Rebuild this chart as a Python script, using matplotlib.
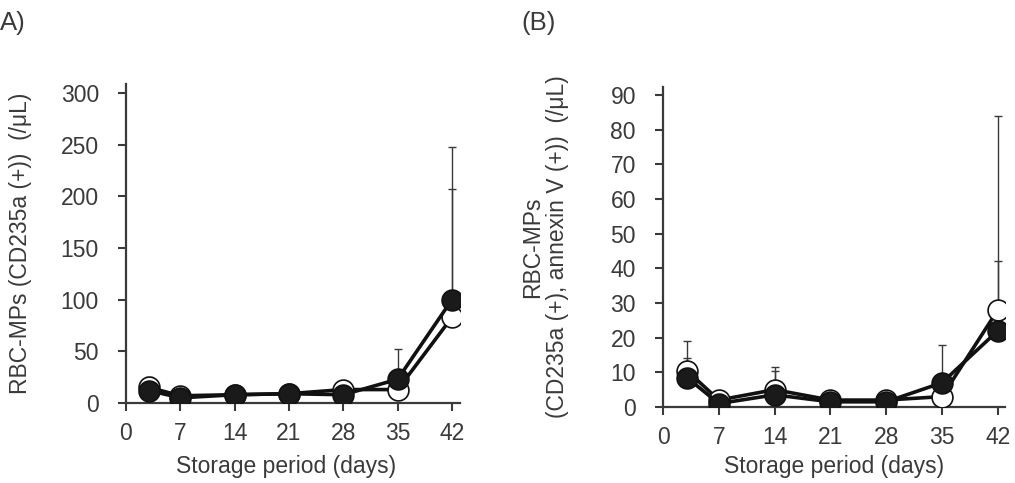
import matplotlib.pyplot as plt
import numpy as np

plt.rcParams['font.family'] = ['Liberation Sans', 'DejaVu Sans']

days = [3, 7, 14, 21, 28, 35, 42]
xticks = [0, 7, 14, 21, 28, 35, 42]

# panel A: CD235a(+)
a_open = [15, 7, 8, 9, 13, 13, 83]
a_open_err = [10, 0, 0, 0, 0, 0, 124]
a_fill = [12, 5, 8, 9, 8, 23, 100]
a_fill_err = [0, 0, 0, 0, 0, 29, 148]

# panel B: CD235a(+), annexin V(+)
b_open = [10.5, 2, 5, 2, 2, 3, 28]
b_open_err = [3.5, 0, 5.5, 0, 0, 0, 56]
b_fill = [8.5, 1, 3.5, 1.5, 1.5, 7, 22]
b_fill_err = [10.5, 0, 8, 0, 0, 11, 20]

dark = '#3a3a3a'
FS = 16.5
fig = plt.figure(figsize=(10.15, 4.83), dpi=100)


def panel(ax, op, operr, fi, fierr, lims, yticks, ylabel):
    x = np.array(days)
    ax.errorbar(x, op, yerr=[np.zeros(len(op)), operr], fmt='none', ecolor=dark,
                elinewidth=1, capsize=3, capthick=1, zorder=1)
    ax.errorbar(x, fi, yerr=[np.zeros(len(fi)), fierr], fmt='none', ecolor=dark,
                elinewidth=1, capsize=3, capthick=1, zorder=1)
    ax.plot(x, op, '-o', color='#111111', lw=2.6, ms=15, mfc='white',
            mec='#111111', mew=1.2, zorder=3)
    ax.plot(x, fi, '-o', color='#111111', lw=2.6, ms=15, mfc='#1a1a1a',
            mec='#111111', mew=1.2, zorder=4)
    ax.set_xlim(*lims[0])
    ax.set_ylim(*lims[1])
    ax.set_xticks(xticks)
    ax.set_yticks(yticks)
    for s in ['top', 'right']:
        ax.spines[s].set_visible(False)
    for s in ['left', 'bottom']:
        ax.spines[s].set_color(dark)
        ax.spines[s].set_linewidth(1.6)
    ax.tick_params(direction='out', length=5.5, width=1.5, color=dark,
                   labelsize=FS, labelcolor=dark)
    ax.tick_params(axis='y', pad=14)
    ax.tick_params(axis='x', pad=8)
    ax.set_xlabel('Storage period (days)', fontsize=FS, color=dark)
    ax.set_ylabel(ylabel, fontsize=FS, color=dark, linespacing=1.1)
    for lab in ax.get_xticklabels() + ax.get_yticklabels():
        lab.set_clip_on(False)


ax1 = fig.add_axes([126/1015, 80/483, 334/1015, 319/483])
panel(ax1, a_open, a_open_err, a_fill, a_fill_err, ((0, 43.03), (0, 308.7)),
      [0, 50, 100, 150, 200, 250, 300], 'RBC-MPs (CD235a (+))  (/μL)')
ax1.yaxis.set_label_coords(-0.28, 0.5)
ax1.xaxis.set_label_coords(0.478, -0.163)

ax2 = fig.add_axes([663/1015, 76/483, 342/1015, 320/483])
panel(ax2, b_open, b_open_err, b_fill, b_fill_err, ((0, 42.9), (0, 92.3)),
      list(range(0, 91, 10)), 'RBC-MPs\n(CD235a (+), annexin V (+))  (/μL)')
ax2.yaxis.set_label_coords(-0.275, 0.5)
ax2.xaxis.set_label_coords(0.5, -0.15)

fig.text(0.0, 0.978, 'A)', fontsize=18.5, color=dark, va='top', ha='left')
fig.text(521/1015, 0.978, '(B)', fontsize=18.5, color=dark, va='top', ha='left')

fig.savefig('out.png', dpi=100)
